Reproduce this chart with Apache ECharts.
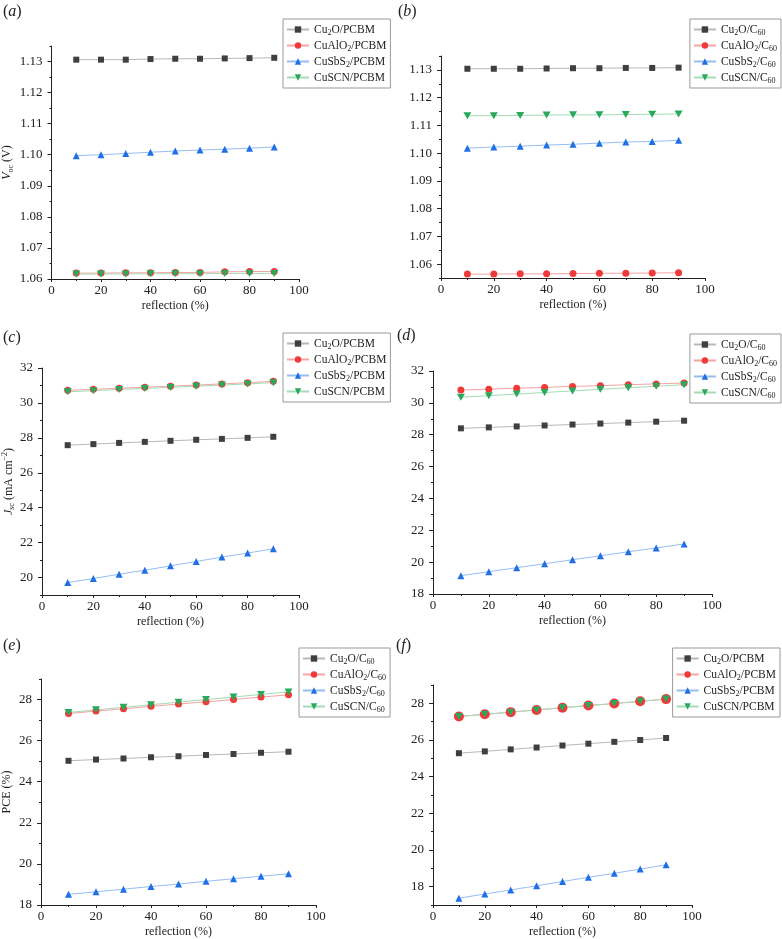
<!DOCTYPE html>
<html>
<head>
<meta charset="utf-8">
<script src="https://cdn.jsdelivr.net/npm/echarts@6/dist/echarts.min.js"></script>
<style>
html, body { margin: 0; padding: 0; background: #fff; }
#chart { width: 782px; height: 939px; }
</style>
</head>
<body>
<div id="chart"></div>
<script>
// reflection (%) on the x axis, same for every panel
const reflection = [10, 20, 30, 40, 50, 60, 70, 80, 90]

// (a) Voc, PCBM
const vocPcbmCu2o = [1.1306, 1.1306, 1.1306, 1.1308, 1.1309, 1.1309, 1.1310, 1.1311, 1.1312]
const vocPcbmAlo2 = [1.0619, 1.0619, 1.0620, 1.0620, 1.0621, 1.0621, 1.0623, 1.0624, 1.0624]
const vocPcbmSbs2 = [1.0997, 1.1000, 1.1004, 1.1008, 1.1012, 1.1015, 1.1018, 1.1021, 1.1025]
const vocPcbmScn = [1.0616, 1.0616, 1.0616, 1.0617, 1.0617, 1.0617, 1.0618, 1.0618, 1.0618]

// (b) Voc, C60
const vocC60Cu2o = [1.1304, 1.1304, 1.1304, 1.1305, 1.1306, 1.1306, 1.1307, 1.1307, 1.1308]
const vocC60Alo2 = [1.0564, 1.0564, 1.0565, 1.0565, 1.0566, 1.0567, 1.0567, 1.0568, 1.0569]
const vocC60Sbs2 = [1.1018, 1.1022, 1.1025, 1.1029, 1.1032, 1.1036, 1.1040, 1.1042, 1.1046]
const vocC60Scn = [1.1135, 1.1135, 1.1136, 1.1137, 1.1138, 1.1138, 1.1139, 1.1140, 1.1141]

// (c) Jsc, PCBM
const jscPcbmCu2o = [27.58, 27.64, 27.71, 27.77, 27.83, 27.89, 27.94, 28.00, 28.06]
const jscPcbmAlo2 = [30.72, 30.78, 30.84, 30.90, 30.96, 31.02, 31.09, 31.16, 31.24]
const jscPcbmSbs2 = [19.71, 19.94, 20.19, 20.42, 20.67, 20.92, 21.17, 21.40, 21.65]
const jscPcbmScn = [30.64, 30.70, 30.77, 30.83, 30.89, 30.96, 31.02, 31.09, 31.16]

// (d) Jsc, C60
const jscC60Cu2o = [28.40, 28.46, 28.52, 28.58, 28.64, 28.70, 28.76, 28.82, 28.88]
const jscC60Alo2 = [30.81, 30.86, 30.92, 30.97, 31.03, 31.08, 31.14, 31.19, 31.25]
const jscC60Sbs2 = [19.15, 19.40, 19.65, 19.90, 20.15, 20.40, 20.65, 20.89, 21.14]
const jscC60Scn = [30.35, 30.45, 30.55, 30.65, 30.75, 30.85, 30.95, 31.04, 31.14]

// (e) PCE, C60
const pceC60Cu2o = [25.02, 25.08, 25.13, 25.19, 25.24, 25.30, 25.35, 25.41, 25.46]
const pceC60Alo2 = [27.32, 27.44, 27.55, 27.67, 27.78, 27.89, 28.00, 28.12, 28.23]
const pceC60Sbs2 = [18.52, 18.64, 18.77, 18.90, 19.02, 19.15, 19.28, 19.40, 19.52]
const pceC60Scn = [27.37, 27.50, 27.62, 27.75, 27.87, 28.00, 28.12, 28.25, 28.37]

// (f) PCE, PCBM
const pcePcbmCu2o = [25.28, 25.38, 25.49, 25.59, 25.70, 25.80, 25.90, 26.00, 26.11]
const pcePcbmAlo2 = [27.28, 27.40, 27.52, 27.64, 27.76, 27.88, 27.99, 28.11, 28.23]
const pcePcbmSbs2 = [17.37, 17.60, 17.82, 18.05, 18.28, 18.51, 18.73, 18.96, 19.19]
const pcePcbmScn = [27.28, 27.40, 27.52, 27.64, 27.76, 27.88, 27.99, 28.11, 28.23]

// tick labels
const xTicks = [0, 20, 40, 60, 80, 100]
const vocTicks = [1.06, 1.07, 1.08, 1.09, 1.10, 1.11, 1.12, 1.13]
const jscTicksPcbm = [20, 22, 24, 26, 28, 30, 32]
const jscTicksC60 = [18, 20, 22, 24, 26, 28, 30, 32]
const pceTicksC60 = [18, 20, 22, 24, 26, 28]
const pceTicksPcbm = [18, 20, 22, 24, 26, 28]

// legend labels (rich text, subscripts)
const pcbmLabels = ['Cu{sub|2}O/PCBM', 'CuAlO{sub|2}/PCBM', 'CuSbS{sub|2}/PCBM', 'CuSCN/PCBM']
const c60Labels = ['Cu{sub|2}O/C{sub|60}', 'CuAlO{sub|2}/C{sub|60}', 'CuSbS{sub|2}/C{sub|60}', 'CuSCN/C{sub|60}']

const FONT = '"Liberation Serif", "Times New Roman", serif'
const markerColors = ['#3f3f3f', '#f03a3a', '#1f6fe6', '#2aa85c']
const lineColors = ['#b8b8b8', '#f6a3a3', '#96bdf2', '#a3dcb6']
const symbols = ['rect', 'circle', 'triangle', 'path://M0,0L10,0L5,8.66Z']
const symbolSizes = [6, 7, 7, [8, 7]]

const rich = {
  sub: { fontSize: 8, fontFamily: FONT, verticalAlign: 'bottom', lineHeight: 15, color: '#222' },
  sup: { fontSize: 8, fontFamily: FONT, verticalAlign: 'top', lineHeight: 15, color: '#222' },
  i: { fontSize: 12, fontFamily: FONT, fontStyle: 'italic', color: '#222' }
}

// panel layout
const panels = [
  {
    key: 'a', grid: { left: 49, top: 46, width: 250, height: 233 },
    yMin: 1.06, yMax: 1.135, ticks: vocTicks, digits: 2,
    values: [vocPcbmCu2o, vocPcbmAlo2, vocPcbmSbs2, vocPcbmScn], labels: pcbmLabels,
    legend: { left: 283, top: 19 }, tag: { left: 3, top: 4 },
    yName: '{i|V}{sub|oc} (V)', nameGap: 37
  },
  {
    key: 'b', grid: { left: 441, top: 56, width: 264, height: 222 },
    yMin: 1.055, yMax: 1.135, ticks: vocTicks, digits: 2,
    values: [vocC60Cu2o, vocC60Alo2, vocC60Sbs2, vocC60Scn], labels: c60Labels,
    legend: { right: 1, top: 19 }, tag: { left: 398, top: 4 }
  },
  {
    key: 'c', grid: { left: 40, top: 368, width: 259, height: 227 },
    yMin: 19, yMax: 32, ticks: jscTicksPcbm, digits: 0,
    values: [jscPcbmCu2o, jscPcbmAlo2, jscPcbmSbs2, jscPcbmScn], labels: pcbmLabels,
    legend: { left: 283, top: 333 }, tag: { left: 3, top: 330 },
    yName: '{i|J}{sub|sc} (mA cm{sup|−2})', nameGap: 26
  },
  {
    key: 'd', grid: { left: 433, top: 371, width: 279, height: 223 },
    yMin: 18, yMax: 32, ticks: jscTicksC60, digits: 0,
    values: [jscC60Cu2o, jscC60Alo2, jscC60Sbs2, jscC60Scn], labels: c60Labels,
    legend: { right: 1, top: 334 }, tag: { left: 397, top: 328 }
  },
  {
    key: 'e', grid: { left: 40, top: 679, width: 276, height: 227 },
    yMin: 18, yMax: 29, ticks: pceTicksC60, digits: 0,
    values: [pceC60Cu2o, pceC60Alo2, pceC60Sbs2, pceC60Scn], labels: c60Labels,
    legend: { left: 299, top: 648 }, tag: { left: 3, top: 638 },
    yName: 'PCE (%)', nameGap: 28
  },
  {
    key: 'f', grid: { left: 433, top: 685, width: 259, height: 221 },
    yMin: 17, yMax: 29, ticks: pceTicksPcbm, digits: 0, bigCircle: true,
    values: [pcePcbmCu2o, pcePcbmAlo2, pcePcbmSbs2, pcePcbmScn], labels: pcbmLabels,
    legend: { right: 2, top: 648 }, tag: { left: 396, top: 638 }
  }
]

// minor ticks halfway between labelled ticks
function minorTicks(ticks, min, max) {
  const step = ticks[1] - ticks[0]
  const out = []
  for (let v = ticks[0] - step / 2; v <= max + 1e-9; v += step) {
    const r = Number(v.toFixed(6))
    if (r >= min - 1e-9 && r <= max + 1e-9) out.push(r)
  }
  return out
}

const axisLine = { show: true, lineStyle: { color: '#222', width: 1 } }
const labelStyle = { color: '#222', fontFamily: FONT, fontSize: 13 }
const nameStyle = { color: '#222', fontFamily: FONT, fontSize: 12, rich: rich }

const option = {
  animation: false,
  backgroundColor: '#fff',
  title: [], grid: [], xAxis: [], yAxis: [], legend: [], series: []
}

panels.forEach((p, gi) => {
  option.title.push({
    text: '({i|' + p.key + '})',
    left: p.tag.left, top: p.tag.top, padding: 0,
    textStyle: {
      color: '#222', fontFamily: FONT, fontSize: 16, fontWeight: 'normal',
      rich: { i: { fontSize: 16, fontFamily: FONT, fontStyle: 'italic', color: '#222' } }
    }
  })

  option.grid.push(Object.assign({ containLabel: false }, p.grid))

  option.xAxis.push({
    type: 'value', gridIndex: gi, min: 0, max: 100, interval: 20,
    name: 'reflection (%)', nameLocation: 'middle', nameGap: 21,
    nameTextStyle: nameStyle,
    axisLine: axisLine,
    axisTick: { show: true, inside: false, length: 3, lineStyle: { color: '#222' } },
    minorTick: { show: true, splitNumber: 2, length: 2, lineStyle: { color: '#222' } },
    axisLabel: Object.assign({ margin: 5, customValues: xTicks }, labelStyle),
    splitLine: { show: false }
  })

  const fmt = v => v.toFixed(p.digits)
  // main y axis: labels and major ticks
  option.yAxis.push({
    type: 'value', gridIndex: gi, min: p.yMin, max: p.yMax,
    name: p.yName || '', nameLocation: 'middle', nameGap: p.nameGap || 30,
    nameTextStyle: nameStyle,
    axisLine: axisLine,
    axisTick: { show: true, inside: false, length: 4, customValues: p.ticks, lineStyle: { color: '#222' } },
    axisLabel: Object.assign({ margin: 9, customValues: p.ticks, formatter: fmt }, labelStyle),
    splitLine: { show: false }
  })
  // second y axis only for the short minor ticks
  option.yAxis.push({
    type: 'value', gridIndex: gi, min: p.yMin, max: p.yMax, position: 'left',
    axisLine: { show: false },
    axisTick: { show: true, inside: false, length: 2, customValues: minorTicks(p.ticks, p.yMin, p.yMax), lineStyle: { color: '#222' } },
    axisLabel: { show: false },
    splitLine: { show: false }
  })

  const names = p.values.map((v, k) => p.key + ':' + k)
  option.legend.push(Object.assign({
    data: names, orient: 'vertical',
    padding: [3, 4, 3, 3], itemGap: 1, itemWidth: 22, itemHeight: 8,
    borderColor: '#999', borderWidth: 1, borderRadius: 0,
    textStyle: { color: '#222', fontFamily: FONT, fontSize: 11.5, lineHeight: 15, rich: rich },
    formatter: name => p.labels[Number(name.split(':')[1])]
  }, p.legend))

  p.values.forEach((vals, k) => {
    option.series.push({
      name: names[k], type: 'line', xAxisIndex: gi, yAxisIndex: gi * 2,
      data: reflection.map((x, j) => [x, vals[j]]),
      symbol: symbols[k],
      symbolSize: (p.bigCircle && k === 1) ? 10 : symbolSizes[k],
      itemStyle: { color: markerColors[k] },
      lineStyle: { color: lineColors[k], width: 1 }
    })
  })
})

const chart = echarts.init(document.getElementById('chart'))
chart.setOption(option)
</script>
</body>
</html>
